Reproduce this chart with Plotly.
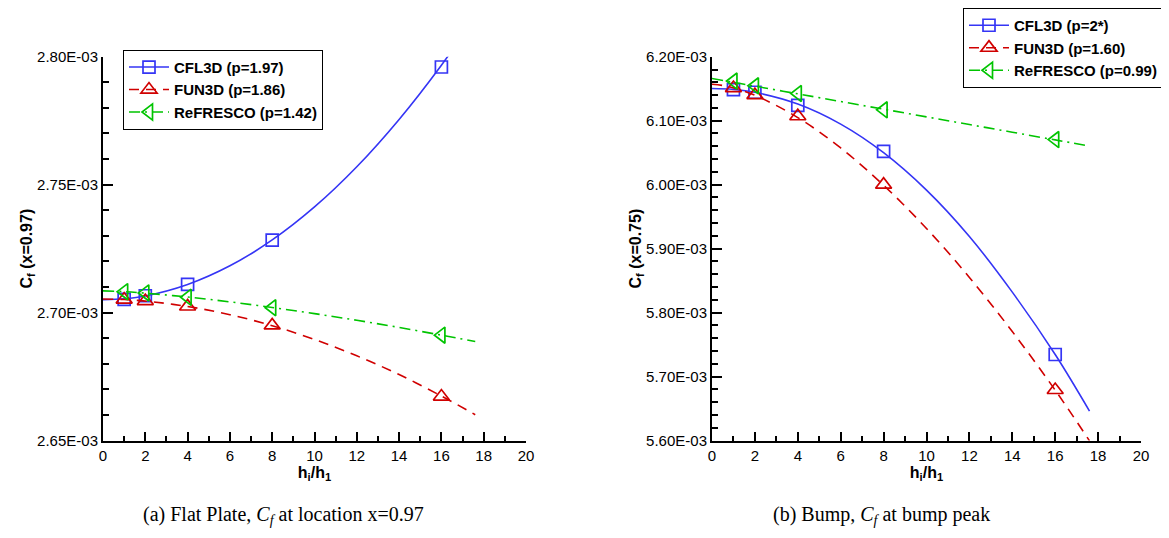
import numpy as np
import plotly.graph_objects as go

# ---------------- data (values in units of 1e-3) ----------------
h_pts = [1, 2, 4, 8, 16]

# (a) flat plate, Cf at x=0.97
fp_cfl3d = [2.7052, 2.7066, 2.7110, 2.7283, 2.7960]
fp_fun3d = [2.7051, 2.7045, 2.7024, 2.6950, 2.6672]
fp_refresco = [2.7082, 2.7077, 2.7060, 2.7019, 2.6912]

h_fit = [0, 1, 2, 4, 6, 8, 10, 12, 14, 16, 17.6]
fp_cfl3d_fit = [2.7050, 2.7054, 2.7065, 2.7110, 2.7183, 2.7284, 2.7413, 2.7570, 2.7755, 2.7967, 2.8156]
fp_fun3d_fit = [2.7053, 2.7051, 2.7045, 2.7024, 2.6992, 2.6949, 2.6895, 2.6831, 2.6758, 2.6674, 2.6601]
fp_refresco_fit = [2.7085, 2.7082, 2.7076, 2.7061, 2.7042, 2.7020, 2.6996, 2.6970, 2.6942, 2.6912, 2.6887]

# (b) bump, Cf at bump peak
bp_cfl3d = [6.1485, 6.1445, 6.1240, 6.0520, 5.7345]
bp_fun3d = [6.1510, 6.1400, 6.1070, 6.0000, 5.6790]
bp_refresco = [6.1620, 6.1545, 6.1425, 6.1170, 6.0705]

bp_cfl3d_fit = [6.1503, 6.1489, 6.1444, 6.1261, 6.0947, 6.0500, 5.9915, 5.9190, 5.8320, 5.7345, 5.6460]
h_fit_fun = [0, 0.5, 1, 2, 4, 6, 8, 10, 12, 14, 16, 17.6]
bp_fun3d_fit = [6.1570, 6.1551, 6.1513, 6.1398, 6.1049, 6.0574, 5.9990, 5.9315, 5.8550, 5.7704, 5.6788, 5.5995]
bp_refresco_fit = [6.1660, 6.1600, 6.1540, 6.1420, 6.1300, 6.1180, 6.1060, 6.0940, 6.0820, 6.0700, 6.0605]

names_a = ["CFL3D (p=1.97)", "FUN3D (p=1.86)", "ReFRESCO (p=1.42)"]
names_b = ["CFL3D (p=2*)", "FUN3D (p=1.60)", "ReFRESCO (p=0.99)"]

x_ticks = [0, 2, 4, 6, 8, 10, 12, 14, 16, 18, 20]
ya_ticks = [2.65, 2.70, 2.75, 2.80]
ya_text = ["2.65E-03", "2.70E-03", "2.75E-03", "2.80E-03"]
yb_ticks = [5.60, 5.70, 5.80, 5.90, 6.00, 6.10, 6.20]
yb_text = ["5.60E-03", "5.70E-03", "5.80E-03", "5.90E-03", "6.00E-03", "6.10E-03", "6.20E-03"]

E = 1e-3

# ---------------- styles ----------------
BLUE = "#3535F5"
RED = "#D00000"
GREEN = "#00C400"
styles = [
    dict(color=BLUE, dash="solid", symbol="square-open", size=12),
    dict(color=RED, dash="10px,7px", symbol="triangle-up-open", size=14),
    dict(color=GREEN, dash="11px,5px,2px,5px", symbol="triangle-left-open", size=14),
]

# page has an 8px body margin: figure sized to the visible area, positions given in page pixels
OFF = 8
W, H = 1161, 530

def px(p):
    return (p - OFF) / W

def py(p):
    return 1 - (p - OFF) / H

fig = go.Figure()

def add_panel(xa, ya, legend, fits, hfits, pts, names):
    for i in range(3):
        st = styles[i]
        fig.add_trace(go.Scatter(
            x=hfits[i], y=np.array(fits[i]) * E, mode="lines",
            line=dict(color=st["color"], width=1.6, dash=st["dash"], shape="spline", smoothing=1.0),
            xaxis=xa, yaxis=ya, showlegend=False, hoverinfo="skip"))
        fig.add_trace(go.Scatter(
            x=h_pts, y=np.array(pts[i]) * E, mode="markers",
            marker=dict(symbol=st["symbol"], size=st["size"], color=st["color"],
                        line=dict(width=1.7, color=st["color"])),
            xaxis=xa, yaxis=ya, showlegend=False, cliponaxis=False))
        fig.add_trace(go.Scatter(
            x=[None], y=[None], mode="lines+markers", name="<b>" + names[i] + "</b>",
            line=dict(color=st["color"], width=1.6, dash=st["dash"]),
            marker=dict(symbol=st["symbol"], size=st["size"], color=st["color"],
                        line=dict(width=1.7, color=st["color"])),
            xaxis=xa, yaxis=ya, legend=legend))

add_panel("x", "y", "legend",
          [fp_cfl3d_fit, fp_fun3d_fit, fp_refresco_fit], [h_fit, h_fit, h_fit],
          [fp_cfl3d, fp_fun3d, fp_refresco], names_a)
add_panel("x2", "y2", "legend2",
          [bp_cfl3d_fit, bp_fun3d_fit, bp_refresco_fit], [h_fit, h_fit_fun, h_fit],
          [bp_cfl3d, bp_fun3d, bp_refresco], names_b)

tickfont = dict(family="Liberation Sans, Arial, sans-serif", size=15, color="black")
titlefont = dict(family="Liberation Sans, Arial, sans-serif", size=16, color="black")

def xaxis(domain):
    return dict(domain=domain, range=[0, 20], showline=True, linewidth=2, linecolor="black",
                mirror=False, showgrid=False, zeroline=False, ticks="inside", ticklen=9,
                tickwidth=2, tickcolor="black", tickvals=x_ticks, tickfont=tickfont,
                minor=dict(dtick=1, ticks="inside", ticklen=5, tickwidth=1.5, tickcolor="black"),
                title=dict(text="<b>h<sub>i</sub>/h<sub>1</sub></b>", font=titlefont, standoff=1),
                automargin=False)

def yaxis(domain, anchor, rng, tv, tt, title, minor_dt):
    return dict(domain=domain, anchor=anchor, range=rng, showline=True, linewidth=2, linecolor="black",
                mirror=False, showgrid=False, zeroline=False, ticks="inside", ticklen=10,
                tickwidth=2, tickcolor="black", tickvals=[v * E for v in tv], ticktext=tt,
                tickfont=tickfont,
                minor=dict(dtick=minor_dt * E, tick0=0, ticks="inside", ticklen=6, tickwidth=1.5,
                           tickcolor="black"),
                title=dict(text=title, font=titlefont, standoff=1), automargin=False)

ydom = [py(440), py(54)]
legfont = dict(family="Liberation Sans, Arial, sans-serif", size=15, color="black")
fig.update_layout(
    width=W, height=H, margin=dict(l=0, r=0, t=0, b=0),
    paper_bgcolor="white", plot_bgcolor="white",
    xaxis=dict(xaxis([px(103), px(526)]), anchor="y"),
    yaxis=yaxis(ydom, "x", [2.65 * E, 2.80 * E], ya_ticks, ya_text,
                "<b>C<sub>f</sub> (x=0.97)</b>", 0.01),
    xaxis2=dict(xaxis([px(712), px(1141)]), anchor="y2"),
    yaxis2=yaxis(ydom, "x2", [5.60 * E, 6.20 * E], yb_ticks, yb_text,
                 "<b>C<sub>f</sub> (x=0.75)</b>", 0.02),
    legend=dict(x=px(123), y=py(47), xanchor="left", yanchor="top",
                bordercolor="black", borderwidth=1, bgcolor="white",
                font=legfont, tracegroupgap=0, itemwidth=40),
    legend2=dict(x=px(1163), y=py(5), xanchor="right", yanchor="top",
                 bordercolor="black", borderwidth=1, bgcolor="white",
                 font=legfont, tracegroupgap=0, itemwidth=40),
    showlegend=True,
)

capfont = dict(family="Liberation Serif, Times New Roman, serif", size=20, color="black")
fig.add_annotation(x=px(283), y=py(515), xref="paper", yref="paper", showarrow=False,
                   xanchor="center", yanchor="middle",
                   text="(a) Flat Plate, <i>C<sub>f</sub></i> at location x=0.97", font=capfont)
fig.add_annotation(x=px(881), y=py(515), xref="paper", yref="paper", showarrow=False,
                   xanchor="center", yanchor="middle",
                   text="(b) Bump, <i>C<sub>f</sub></i> at bump peak", font=capfont)

fig.write_html("out.html")
